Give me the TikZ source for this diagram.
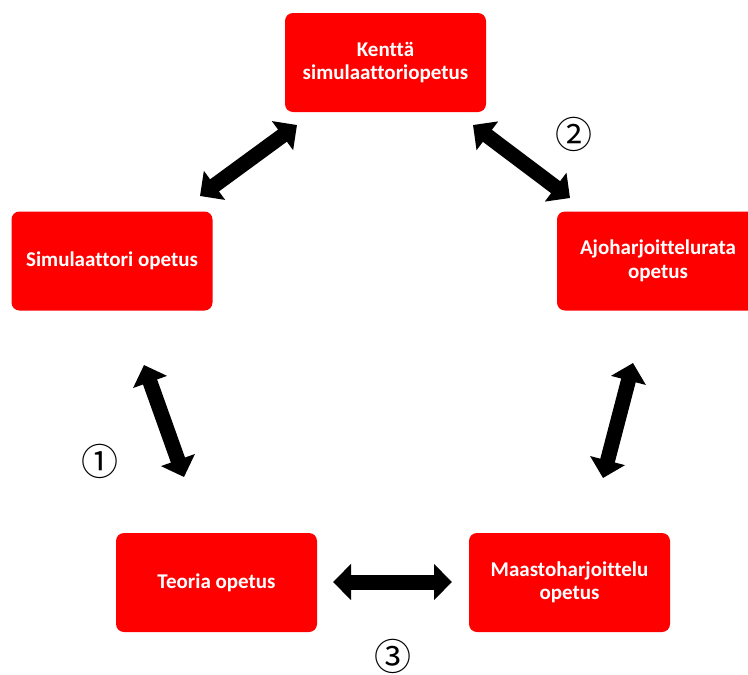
\documentclass[tikz,border=0pt]{standalone}
\usepackage{fontspec}
\setmainfont{Carlito}[Ligatures={NoCommon}]
\newfontfamily\symfont{Noto Sans CJK SC}
\usetikzlibrary{arrows.meta}
\tikzset{
  box/.style={fill=red, rounded corners=8pt, minimum width=201pt, minimum height=99pt,
    inner sep=0pt, text=white, font=\fontsize{21}{23.5}\selectfont\bfseries, align=center},
  dblarrow/.style={line width=15pt,
    {Triangle[width=35pt,length=18pt]}-{Triangle[width=35pt,length=18pt]}},
  numlabel/.style={font=\symfont\fontsize{37}{40}\selectfont, inner sep=0pt}
}
\begin{document}
\begin{tikzpicture}[x=1pt,y=-1pt]
\useasboundingbox (0,0) rectangle (748,675);
\clip (0,0) rectangle (748,675);
\node[box] (kentta) at (385.5,62.5) {Kenttä\\simulaattoriopetus};
\node[box] (sim) at (112,261) {Simulaattori opetus};
\node[box, minimum width=202pt] (ajo) at (658,261) {Ajoharjoittelurata\\opetus};
\node[box] (teoria) at (216.5,582.5) {Teoria opetus};
\node[box] (maasto) at (569.5,582.5) {Maastoharjoittelu\\opetus};

\coordinate (a1) at (200,196); \coordinate (b1) at (297,125);
\coordinate (a2) at (473,125); \coordinate (b2) at (570,198);
\coordinate (a3) at (144,365); \coordinate (b3) at (184,477);
\coordinate (a4) at (633,363); \coordinate (b4) at (603,478);
\coordinate (a5) at (333,582); \coordinate (b5) at (452,582);
\draw[dblarrow] (a1) -- (b1);
\draw[dblarrow] (a2) -- (b2);
\draw[dblarrow] (a3) -- (b3);
\draw[dblarrow] (a4) -- (b4);
\draw[dblarrow] (a5) -- (b5);

\node[numlabel] (n1) at (99.5,461.5) {①};
\node[numlabel] (n2) at (574,134.5) {②};
\node[numlabel] (n3) at (393,656) {③};
\end{tikzpicture}
\end{document}
